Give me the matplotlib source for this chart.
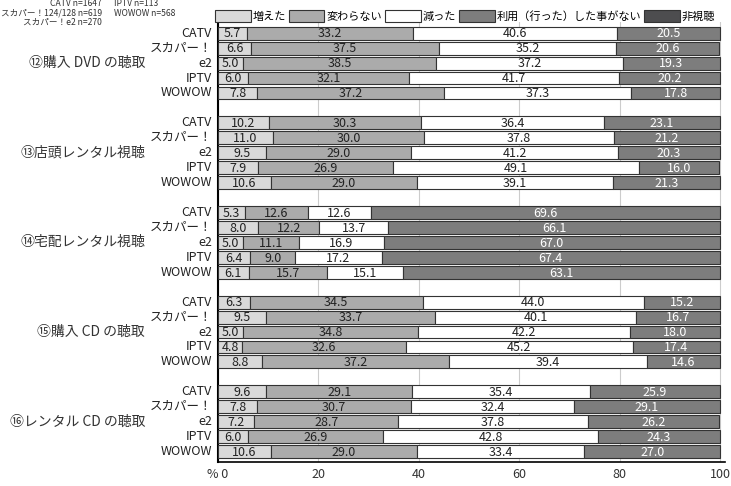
import matplotlib
matplotlib.use("Agg")
import matplotlib.pyplot as plt
from matplotlib.patches import Patch

plt.rcParams['font.family'] = ['Noto Sans CJK JP', 'DejaVu Sans']

services = ['CATV', 'スカパー！', 'e2', 'IPTV', 'WOWOW']
groups = ['⑫購入 DVD の聴取', '⑬店頭レンタル視聴', '⑭宅配レンタル視聴', '⑮購入 CD の聴取', '⑯レンタル CD の聴取']
categories = ['増えた', '変わらない', '減った', '利用（行った）した事がない', '非視聴']
colors = ['#d9d9d9', '#ababab', '#ffffff', '#7d7d7d', '#4d4d4f']

# per group: rows are services, columns are categories
increased = [
    [5.7, 6.6, 5.0, 6.0, 7.8],
    [10.2, 11.0, 9.5, 7.9, 10.6],
    [5.3, 8.0, 5.0, 6.4, 6.1],
    [6.3, 9.5, 5.0, 4.8, 8.8],
    [9.6, 7.8, 7.2, 6.0, 10.6],
]
unchanged = [
    [33.2, 37.5, 38.5, 32.1, 37.2],
    [30.3, 30.0, 29.0, 26.9, 29.0],
    [12.6, 12.2, 11.1, 9.0, 15.7],
    [34.5, 33.7, 34.8, 32.6, 37.2],
    [29.1, 30.7, 28.7, 26.9, 29.0],
]
decreased = [
    [40.6, 35.2, 37.2, 41.7, 37.3],
    [36.4, 37.8, 41.2, 49.1, 39.1],
    [12.6, 13.7, 16.9, 17.2, 15.1],
    [44.0, 40.1, 42.2, 45.2, 39.4],
    [35.4, 32.4, 37.8, 42.8, 33.4],
]
never_used = [
    [20.5, 20.6, 19.3, 20.2, 17.8],
    [23.1, 21.2, 20.3, 16.0, 21.3],
    [69.6, 66.1, 67.0, 67.4, 63.1],
    [15.2, 16.7, 18.0, 17.4, 14.6],
    [25.9, 29.1, 26.2, 24.3, 27.0],
]
not_viewing = [
    [0, 0, 0, 0, 0],
    [0, 0, 0, 0, 0],
    [0, 0, 0, 0, 0],
    [0, 0, 0, 0, 0],
    [0, 0, 0, 0, 0],
]
series = [increased, unchanged, decreased, never_used, not_viewing]

fig = plt.figure(figsize=(7.31, 4.86), dpi=100)
ax = fig.add_axes([218 / 731, 24 / 486, 507 / 731, 440 / 486])

for g in range(len(groups)):
    for r in range(len(services)):
        y = g * 6 + r
        left = 0
        for k in range(len(series)):
            v = series[k][g][r]
            if v <= 0:
                continue
            ax.barh(y, v, left=left, height=0.86, color=colors[k],
                    edgecolor='#333333', linewidth=0.8, zorder=3)
            tc = '#222222' if k < 3 else 'white'
            ax.text(left + v / 2, y + 0.05, f'{v:.1f}', ha='center', va='center',
                    fontsize=9, color=tc, zorder=4)
            left += v
        ax.text(-1.2, y, services[r], ha='right', va='center', fontsize=9,
                color='#222222')
    ax.text(-14.5, g * 6 + 2, groups[g], ha='right', va='center', fontsize=10,
            color='#333333')

ax.set_xlim(0, 101)
ax.set_ylim(28.7, -0.75)
ax.set_yticks([])
ax.set_xticks([0, 20, 40, 60, 80, 100])
ax.set_xticklabels(['% 0', '20', '40', '60', '80', '100'], fontsize=9, color='#333333')
ax.tick_params(axis='x', length=0, pad=4)
ax.xaxis.grid(True, color='#cccccc', linewidth=0.8, zorder=0)
for s in ['top', 'right']:
    ax.spines[s].set_visible(False)
ax.spines['left'].set_linewidth(1.5)
ax.spines['bottom'].set_linewidth(1.2)

# sample sizes
kw = dict(va='center', fontsize=6.2, color='#333333')
fig.text(102 / 731, 1 - 4 / 486, 'CATV n=1647', ha='right', **kw)
fig.text(102 / 731, 1 - 13 / 486, 'スカパー！124/128 n=619', ha='right', **kw)
fig.text(102 / 731, 1 - 22 / 486, 'スカパー！e2 n=270', ha='right', **kw)
fig.text(114 / 731, 1 - 4 / 486, 'IPTV n=113', ha='left', **kw)
fig.text(114 / 731, 1 - 13 / 486, 'WOWOW n=568', ha='left', **kw)

handles = [Patch(facecolor=c, edgecolor='#333333', linewidth=0.8) for c in colors]
fig.legend(handles, categories, loc='center left', bbox_to_anchor=(215 / 731, 1 - 16 / 486),
           ncol=5, frameon=False, fontsize=8, handlelength=3.2, handleheight=1.2,
           handletextpad=0.2, columnspacing=0.25, borderpad=0, borderaxespad=0)

fig.savefig('out.png', dpi=100)
